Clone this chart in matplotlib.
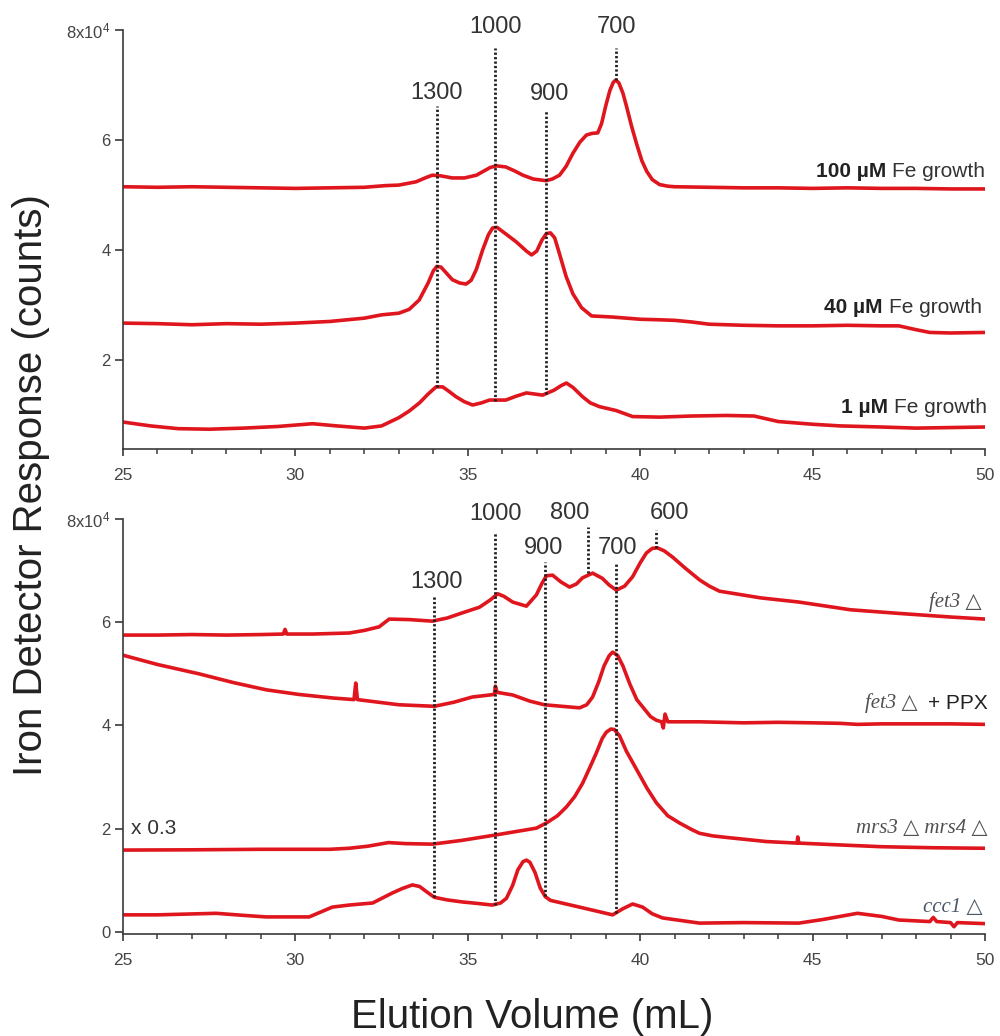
import matplotlib
matplotlib.use("Agg")
import matplotlib.pyplot as plt
from matplotlib.ticker import MultipleLocator, FixedLocator, FixedFormatter

plt.rcParams['font.family'] = ['Liberation Sans', 'DejaVu Sans']
plt.rcParams['mathtext.default'] = 'regular'

# ---------------- data (units of 1e4 counts) ----------------
# Top panel
fe100_x = [25.0, 26.0, 27.0, 28.0, 29.0, 30.0, 31.0, 32.0, 32.6, 33.0, 33.5, 33.8, 33.97, 34.2, 34.55,
           34.9, 35.25, 35.45, 35.65, 35.83, 36.1, 36.35, 36.6, 36.9, 37.27, 37.45, 37.66, 37.85,
           38.05, 38.25, 38.44, 38.6, 38.77, 38.88, 39.0, 39.12, 39.22, 39.29, 39.38, 39.5, 39.6,
           39.75, 39.9, 40.05, 40.19, 40.35, 40.56, 40.8, 41.0, 42, 43, 44, 45, 46, 47, 48, 49, 50]
fe100_y = [5.15, 5.14, 5.15, 5.14, 5.13, 5.12, 5.13, 5.14, 5.17, 5.18, 5.24, 5.32, 5.36, 5.35, 5.31,
           5.31, 5.36, 5.43, 5.50, 5.53, 5.51, 5.44, 5.36, 5.29, 5.26, 5.29, 5.36, 5.52,
           5.76, 5.96, 6.09, 6.12, 6.13, 6.30, 6.62, 6.90, 7.05, 7.09, 7.04, 6.85, 6.62,
           6.25, 5.92, 5.62, 5.43, 5.28, 5.19, 5.16, 5.15, 5.14, 5.13, 5.13, 5.12, 5.13, 5.12,
           5.12, 5.11, 5.11]

fe40_x = [25, 26, 27, 28, 29, 30, 31, 32, 32.5, 33.0, 33.3, 33.59, 33.85, 34.0, 34.1, 34.22, 34.35,
          34.55, 34.76, 34.95, 35.1, 35.25, 35.43, 35.6, 35.72, 35.85, 36.0, 36.4, 36.7, 36.85,
          37.0, 37.15, 37.28, 37.4, 37.52, 37.65, 37.85, 38.05, 38.3, 38.59, 39.2, 40.0, 40.56,
          41.0, 41.5, 42.0, 43, 44, 45, 46, 47, 47.5, 48.0, 48.4, 49, 50]
fe40_y = [2.67, 2.66, 2.64, 2.66, 2.65, 2.67, 2.70, 2.76, 2.82, 2.85, 2.92, 3.09, 3.40, 3.62, 3.70, 3.69,
          3.60, 3.46, 3.40, 3.38, 3.45, 3.65, 4.00, 4.28, 4.40, 4.41, 4.34, 4.15, 3.98, 3.91,
          3.98, 4.18, 4.30, 4.31, 4.22, 3.95, 3.52, 3.20, 2.95, 2.80, 2.78, 2.74, 2.73,
          2.72, 2.69, 2.65, 2.63, 2.62, 2.62, 2.63, 2.62, 2.62, 2.55, 2.50, 2.49, 2.50]

fe1_x = [25, 25.8, 26.6, 27.5, 28.5, 29.5, 30.5, 31.2, 32.0, 32.5, 33.0, 33.3, 33.6, 33.85, 34.08,
         34.27, 34.45, 34.66, 34.9, 35.14, 35.4, 35.63, 36.1, 36.4, 36.7, 37.17, 37.5, 37.7, 37.86,
         38.05, 38.33, 38.55, 38.82, 39.3, 39.78, 40.56, 41.5, 42.5, 43.3, 44, 45, 45.8, 47, 48,
         49, 50]
fe1_y = [0.87, 0.80, 0.75, 0.74, 0.76, 0.79, 0.84, 0.80, 0.76, 0.80, 0.95, 1.07, 1.22, 1.38, 1.51,
         1.51, 1.43, 1.33, 1.24, 1.18, 1.22, 1.27, 1.27, 1.34, 1.40, 1.36, 1.45, 1.53, 1.58,
         1.50, 1.33, 1.22, 1.15, 1.08, 0.97, 0.96, 0.98, 0.99, 0.98, 0.88, 0.83, 0.80, 0.78, 0.76,
         0.77, 0.78]

# Bottom panel
fet3_x = [25, 26, 27, 28, 29, 29.65, 29.7, 29.75, 30.5, 31.56, 32.0, 32.43, 32.72, 33.3, 33.97,
          34.4, 34.84, 35.34, 35.65, 35.87, 36.05, 36.3, 36.7, 36.99, 37.15, 37.28, 37.46, 37.7,
          37.95, 38.15, 38.33, 38.62, 38.9, 39.1, 39.31, 39.55, 39.78, 40.0, 40.18, 40.35, 40.5,
          40.7, 40.94, 41.3, 41.72, 42.0, 42.3, 43.5, 44.6, 45.5, 46.1, 47.5, 49, 50]
fet3_y = [5.75, 5.75, 5.76, 5.75, 5.76, 5.77, 5.86, 5.77, 5.77, 5.79, 5.84, 5.91, 6.06, 6.05, 6.02,
          6.08, 6.18, 6.29, 6.43, 6.55, 6.50, 6.39, 6.31, 6.53, 6.75, 6.90, 6.91, 6.78,
          6.68, 6.74, 6.86, 6.95, 6.85, 6.72, 6.62, 6.70, 6.88, 7.15, 7.34, 7.43, 7.44,
          7.38, 7.26, 7.05, 6.82, 6.70, 6.60, 6.47, 6.39, 6.30, 6.24, 6.17, 6.10, 6.06]

ppx_x = [25, 26, 27.2, 28.2, 29.15, 30.1, 31.1, 31.7, 31.75, 31.8, 32.4, 33.0, 34.03, 34.6, 35.13,
         35.77, 35.8, 35.85, 36.3, 36.8, 37.22, 38.24, 38.45, 38.62, 38.8, 38.95, 39.1, 39.2,
         39.35, 39.5, 39.7, 39.9, 40.07, 40.3, 40.47, 40.62, 40.67, 40.72, 40.8, 41.72, 43, 44,
         45, 45.8, 46.3, 47, 48, 49, 50]
ppx_y = [5.36, 5.18, 5.00, 4.83, 4.69, 4.60, 4.53, 4.50, 4.82, 4.50, 4.45, 4.40, 4.37, 4.45, 4.55,
         4.60, 4.76, 4.64, 4.59, 4.47, 4.40, 4.34, 4.40, 4.55, 4.85, 5.15, 5.35, 5.42,
         5.35, 5.15, 4.80, 4.50, 4.36, 4.17, 4.10, 4.07, 3.95, 4.22, 4.07, 4.07, 4.05, 4.06,
         4.05, 4.04, 4.02, 4.03, 4.03, 4.03, 4.02]

mrs_x = [25, 27, 29, 31, 31.56, 32.1, 32.7, 33.2, 33.97, 34.8, 35.83, 36.99, 37.28, 37.6, 37.86,
         38.1, 38.33, 38.55, 38.73, 38.9, 39.02, 39.15, 39.25, 39.4, 39.6, 39.9, 40.2, 40.47,
         40.8, 41.14, 41.5, 41.72, 42.1, 42.5, 43.66, 44.55, 44.57, 44.6, 45.6, 47, 48.5, 50]
mrs_y = [1.585, 1.59, 1.60, 1.60, 1.62, 1.66, 1.73, 1.71, 1.70, 1.77, 1.88, 2.01, 2.11, 2.25, 2.42,
         2.62, 2.88, 3.20, 3.47, 3.75, 3.87, 3.93, 3.92, 3.80, 3.50, 3.14, 2.78, 2.50,
         2.25, 2.11, 1.98, 1.91, 1.86, 1.83, 1.75, 1.72, 1.84, 1.72, 1.69, 1.65, 1.63, 1.62]

ccc1_x = [25, 26, 27.7, 28.5, 29.15, 30.4, 31.07, 31.56, 32.24, 32.8, 33.1, 33.39, 33.6, 33.8,
          34.03, 34.4, 34.84, 35.3, 35.71, 35.95, 36.12, 36.3, 36.45, 36.6, 36.7, 36.8, 36.95,
          37.1, 37.25, 37.4, 38.24, 39.2, 39.5, 39.78, 40.07, 40.35, 40.65, 41.72, 43, 44.6, 45.3,
          46.3, 47.0, 47.5, 48.4, 48.5, 48.6, 49, 49.1, 49.2, 50]
ccc1_y = [0.33, 0.33, 0.36, 0.32, 0.29, 0.29, 0.48, 0.52, 0.56, 0.75, 0.84, 0.91, 0.88, 0.78,
          0.67, 0.62, 0.58, 0.55, 0.52, 0.56, 0.65, 0.90, 1.20, 1.36, 1.39, 1.35, 1.15,
          0.85, 0.68, 0.61, 0.48, 0.33, 0.45, 0.54, 0.48, 0.35, 0.27, 0.17, 0.18, 0.17, 0.24,
          0.36, 0.30, 0.23, 0.20, 0.28, 0.20, 0.18, 0.10, 0.18, 0.16]

# Marker lines: label, x, y_low, y_high, label_x, label_y
top_marks_lbl = ["1300", "1000", "900", "700"]
top_marks_x = [34.1, 35.8, 37.27, 39.29]
top_marks_lo = [1.51, 1.25, 1.38, 7.09]
top_marks_hi = [6.62, 7.67, 6.55, 7.67]
top_lbl_x = [34.09, 35.80, 37.37, 39.31]
top_lbl_y = [6.75, 7.95, 6.73, 7.95]

bot_marks_lbl = ["1300", "1000", "900", "800", "700", "600"]
bot_marks_x = [34.03, 35.8, 37.25, 38.5, 39.3, 40.47]
bot_marks_lo = [0.67, 0.52, 0.70, 6.95, 0.36, 7.44]
bot_marks_hi = [6.49, 7.73, 7.17, 7.85, 7.15, 7.79]
bot_lbl_x = [34.09, 35.80, 37.20, 37.95, 39.34, 40.85]
bot_lbl_y = [6.66, 7.98, 7.32, 8.0, 7.32, 8.0]

x_ticks = [25, 30, 35, 40, 45, 50]
top_yticks = [2, 4, 6, 8]
top_yticklabels = ["2", "4", "6", "8x10$^{4}$"]
bot_yticks = [0, 2, 4, 6, 8]
bot_yticklabels = ["0", "2", "4", "6", "8x10$^{4}$"]

# ---------------- figure ----------------
RED = '#e0161e'
DOT = '#1e1e1e'
fig = plt.figure(figsize=(10, 10.36), dpi=100)
ax1 = fig.add_axes([0.123, 0.5666, 0.862, 0.4044])
ax2 = fig.add_axes([0.123, 0.0985, 0.862, 0.4006])


def style(ax, ylo, yticks, ylabels):
    ax.set_xlim(25, 50)
    ax.set_ylim(ylo, 8)
    for s in ['top', 'right']:
        ax.spines[s].set_visible(False)
    for s in ['left', 'bottom']:
        ax.spines[s].set_color('#3a3a3a')
        ax.spines[s].set_linewidth(1.2)
    ax.xaxis.set_major_locator(FixedLocator(x_ticks))
    ax.xaxis.set_minor_locator(MultipleLocator(1))
    ax.yaxis.set_major_locator(FixedLocator(yticks))
    ax.yaxis.set_major_formatter(FixedFormatter(ylabels))
    ax.tick_params(axis='x', which='major', direction='out', length=5, width=1.2,
                   color='#3a3a3a', labelsize=12.5, labelcolor='#444444', pad=9)
    ax.tick_params(axis='x', which='minor', direction='out', length=3.5, width=1.1,
                   color='#3a3a3a')
    ax.tick_params(axis='y', which='major', direction='out', length=6, width=1.2,
                   color='#3a3a3a', labelsize=12, labelcolor='#444444', pad=3)


style(ax1, 0.38, top_yticks, top_yticklabels)
style(ax2, -0.04, bot_yticks, bot_yticklabels)

for ax, mx, lo, hi in [(ax1, top_marks_x, top_marks_lo, top_marks_hi),
                       (ax2, bot_marks_x, bot_marks_lo, bot_marks_hi)]:
    for x, a, b in zip(mx, lo, hi):
        ax.plot([x, x], [a, b], color=DOT, lw=2.0, linestyle=(0, (0.8, 0.8)), zorder=3,
                clip_on=False)

for xs, ys in [(fe100_x, fe100_y), (fe40_x, fe40_y), (fe1_x, fe1_y)]:
    ax1.plot(xs, ys, color=RED, lw=2.6, zorder=2, solid_joinstyle='round')
for xs, ys in [(fet3_x, fet3_y), (ppx_x, ppx_y), (mrs_x, mrs_y), (ccc1_x, ccc1_y)]:
    ax2.plot(xs, ys, color=RED, lw=2.6, zorder=2, solid_joinstyle='round')

for lbl, x, y in zip(top_marks_lbl, top_lbl_x, top_lbl_y):
    ax1.text(x, y, lbl, ha='center', va='baseline', fontsize=17, color='#333333', clip_on=False)
for lbl, x, y in zip(bot_marks_lbl, bot_lbl_x, bot_lbl_y):
    ax2.text(x, y, lbl, ha='center', va='baseline', fontsize=17, color='#333333', clip_on=False)

# condition labels (top)
for conc, x, y in [("100 µM", 50.0, 5.33), ("40 µM", 49.9, 2.85), ("1 µM", 50.05, 1.04)]:
    t = ax1.text(x, y, "Fe growth", ha='right', va='baseline', fontsize=15, color='#333333',
                 clip_on=False)
    ax1.annotate(conc, xy=(0, 0), xycoords=t, xytext=(-4, 0), textcoords='offset points',
                 ha='right', va='bottom', fontsize=15, fontweight='bold', color='#222222')

# strain labels (bottom)
SERIF = ['Liberation Serif', 'DejaVu Sans']
GRAY = '#505050'
ax2.text(49.9, 6.29, "fet3 △", ha='right', va='baseline', fontsize=15, style='italic',
         family=SERIF, color=GRAY, clip_on=False)
t = ax2.text(50.09, 4.32, "+ PPX", ha='right', va='baseline', fontsize=15, color='#222222',
             clip_on=False)
ax2.annotate("fet3 △", xy=(0, 0), xycoords=t, xytext=(-8, 0), textcoords='offset points',
             ha='right', va='bottom', fontsize=15, style='italic', family=SERIF, color=GRAY)
ax2.text(50.06, 1.91, "mrs3 △ mrs4 △", ha='right', va='baseline', fontsize=15, style='italic',
         family=SERIF, color=GRAY, clip_on=False)
ax2.text(49.94, 0.38, "ccc1 △", ha='right', va='baseline', fontsize=15, style='italic',
         family=SERIF, color='#4a5866', clip_on=False)
ax2.text(25.23, 1.9, "x 0.3", ha='left', va='baseline', fontsize=15, color='#333333')

fig.text(0.532, 0.0077, "Elution Volume (mL)", ha='center', va='baseline', fontsize=29,
         color='#222222')
fig.text(0.031, 0.532, "Iron Detector Response (counts)", ha='center', va='center',
         rotation=90, fontsize=29, color='#222222')

fig.savefig("out.png", dpi=100)
